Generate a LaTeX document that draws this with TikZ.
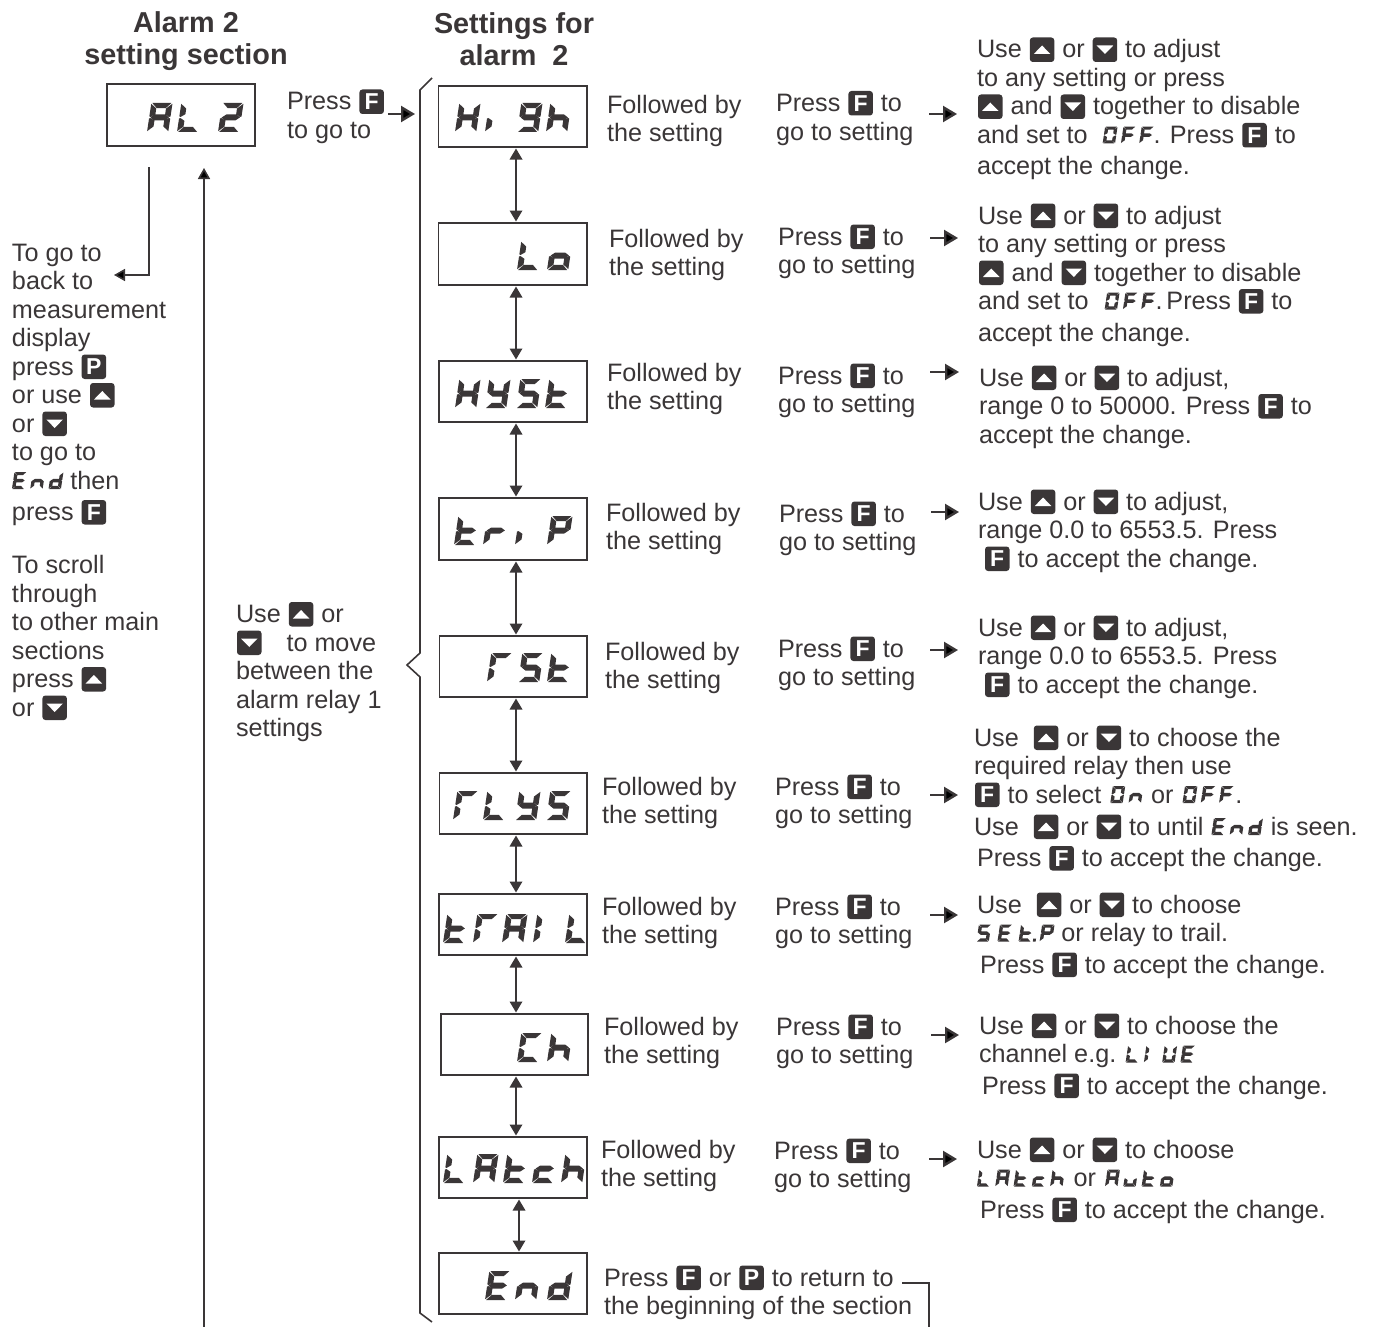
\documentclass[tikz,border=0pt]{standalone}
\usepackage{fontspec}
\setmainfont{Liberation Sans}
\usetikzlibrary{arrows.meta}
\definecolor{ink}{HTML}{3A3637}
% seven-segment elements (glyph box 20 x 29, y up)
\def\segA{(1,29)--(19,29)--(14.2,23.8)--(5.8,23.8)--cycle }
\def\segD{(1,0)--(19,0)--(14.2,5.2)--(5.8,5.2)--cycle }
\def\segG{(1.4,14.5)--(5.4,17.5)--(14.6,17.5)--(18.6,14.5)--(14.6,11.5)--(5.4,11.5)--cycle }
\def\segF{(0,28.2)--(5.4,23.4)--(5.4,17.8)--(1.2,15)--(0,15.6)--cycle }
\def\segE{(0,0.8)--(5.4,5.6)--(5.4,11.2)--(1.2,14)--(0,13.4)--cycle }
\def\segB{(20,28.2)--(14.6,23.4)--(14.6,17.8)--(18.8,15)--(20,15.6)--cycle }
\def\segC{(20,0.8)--(14.6,5.6)--(14.6,11.2)--(18.8,14)--(20,13.4)--cycle }
\def\segDot{(23,0)--(27.5,0)--(27.5,5)--(23,5)--cycle }
\newcommand\defglyph[2]{\expandafter\def\csname glyph#1\endcsname{\fill[ink] #2;}}
\defglyph{A}{\segA\segB\segC\segE\segF\segG}
\defglyph{L}{\segF\segE\segD}
\defglyph{2}{\segA\segB\segG\segE\segD}
\defglyph{H}{\segF\segE\segB\segC\segG}
\defglyph{i}{\segE}
\defglyph{g}{\segA\segB\segF\segG\segC\segD}
\defglyph{h}{\segF\segE\segG\segC}
\defglyph{o}{\segG\segC\segD\segE}
\defglyph{Y}{\segF\segB\segG\segC\segD}
\defglyph{S}{\segA\segF\segG\segC\segD}
\defglyph{t}{\segF\segE\segG\segD}
\defglyph{r}{\segE\segG}
\defglyph{P}{\segA\segB\segF\segG\segE}
\defglyph{R}{\segA\segF\segE}
\defglyph{I}{\segF\segE}
\defglyph{C}{\segA\segF\segE\segD}
\defglyph{c}{\segG\segE\segD}
\defglyph{E}{\segA\segF\segG\segE\segD}
\defglyph{n}{\segG\segE\segC}
\defglyph{d}{\segB\segC\segD\segE\segG}
\defglyph{u}{\segE\segD\segC}
\defglyph{U}{\segF\segE\segB\segC\segD}
\defglyph{O}{\segA\segB\segC\segD\segE\segF}
\defglyph{F}{\segA\segF\segG\segE}
\defglyph{tdot}{\segF\segE\segG\segD\segDot}
\defglyph{sp}{}
\tikzset{
  dispbox/.style={draw=ink,line width=1.7pt,inner sep=0pt,outer sep=0pt,text opacity=0,font=\fontsize{12}{12}\selectfont},
  txt/.style={anchor=base west,inner sep=0pt,outer sep=0pt,text=ink,font=\fontsize{25.2}{28.5}\selectfont},
  ttl/.style={anchor=base,inner sep=0pt,outer sep=0pt,text=ink,align=center,font=\fontsize{28.8}{32}\selectfont\bfseries},
  keyletter/.style={anchor=center,text=white,inner sep=0pt,font=\fontsize{23}{23}\selectfont\bfseries},
  hidden/.style={text opacity=0,inner sep=0pt,anchor=base west,overlay,font=\fontsize{12}{12}\selectfont},
  link/.style={draw=ink,line width=1.8pt,{Triangle[length=11pt,width=12.5pt]}-{Triangle[length=11pt,width=12.5pt]},shorten <=1.5pt,shorten >=1.5pt},
  hop/.style={draw=ink,line width=2.4pt,-{Triangle[length=14pt,width=16pt]}},
  wire/.style={draw=ink,line width=1.6pt},
  wiretip/.style={wire,-{Triangle[length=11pt,width=12pt]}},
}
\newcommand\keybase{\fill[ink,rounded corners=3pt] (0,0) rectangle (24.5,24.5);}
\newcommand\keywrap[1]{\hspace{1pt}\smash{#1}\hspace{1pt}}
\newcommand\keyF{\keywrap{\tikz[x=1pt,y=1pt,baseline=4pt]{\keybase\node[keyletter] (kf) at (12.25,12.25) {F};}}}
\newcommand\keyP{\keywrap{\tikz[x=1pt,y=1pt,baseline=4pt]{\keybase\node[keyletter] (kp) at (12.25,12.25) {P};}}}
\newcommand\keyU{\keywrap{\tikz[x=1pt,y=1pt,baseline=4pt]{\keybase\fill[white] (4,8) -- (20.5,8) -- (12.25,16.5) -- cycle;}}}
\newcommand\keyD{\keywrap{\tikz[x=1pt,y=1pt,baseline=4pt]{\keybase\fill[white] (4,16.5) -- (20.5,16.5) -- (12.25,8) -- cycle;}}}
% inline seven-segment word: [pitch]{visible text}{list of glyphs}
\newcommand\segword[3][29.5]{\tikz[x=.62pt,y=.58pt,baseline=0pt,xslant=.15]{\node[hidden] (sw) at (0,0) {#2};\foreach \c [count=\i from 0] in {#3}{\begin{scope}[shift={(\i*#1,0)}]\csname glyph\c\endcsname\end{scope}}}}
% display box
\newcommand\disp[6]{\node[dispbox,minimum width={(#4-#2)*1pt},minimum height={(#5-#3)*1pt}] (#1) at ({(#2+#4)/2},{(#3+#5)/2}) {#6};}
\newcommand\glyphs[2]{\foreach \gx/\c in {#2}{\begin{scope}[shift={(\gx,#1)},x=1.06pt,y=1pt,xslant=.15]\csname glyph\c\endcsname\end{scope}}}
\newcommand\blk[4]{\node[txt] (#1) at (#2,#3) {\begin{tabular}[t]{@{}l@{}}#4\end{tabular}};}
\newcommand\hopArrow[4]{\coordinate (#1s) at (#3,#2);\coordinate (#1e) at (#4,#2);\draw[hop] (#1s) -- (#1e);}
\newcommand\follow{Followed by\\the setting}
\newcommand\pressto{Press \keyF{} to\\go to setting}
\newcommand\accept{Press \keyF{} to accept the change.}
\begin{document}
\begin{tikzpicture}[x=1pt,y=-1pt]
\useasboundingbox (0,0) rectangle (1373,1327);
% titles
\node[ttl] (t1) at (186,64.5) {Alarm 2\\setting section};
\node[ttl] (t2) at (514,66) {Settings for\\alarm\ \ 2};
% displays
\disp{al}{107}{84}{255}{146}{AL 2}
\disp{hi}{438.5}{86}{587}{147}{High}
\disp{lo}{438.5}{223}{587}{285}{Lo}
\disp{hy}{439}{361}{587}{422}{HYSt}
\disp{tr}{439}{498}{587}{560}{triP}
\disp{rs}{439.5}{636}{587}{697}{rSt}
\disp{rl}{439.5}{773}{587}{834}{rLYS}
\disp{ta}{439}{894}{587}{955}{tRAIL}
\disp{ch}{441}{1014}{588}{1075}{Ch}
\disp{la}{439}{1137}{587}{1198}{LAtch}
\disp{en}{439}{1253}{587}{1314}{End}
\glyphs{132}{147/A,177/L,218/2}
\glyphs{132}{455/H,485/i,517/g,546/h}
\glyphs{270}{517/L,547/o}
\glyphs{408}{455/H,485/Y,516/S,545/t}
\glyphs{545}{454/t,483/r,515/i,547/P}
\glyphs{682}{487/R,518/S,547/t}
\glyphs{820}{453/R,483/L,515/Y,546/S}
\glyphs{943}{443/t,473/R,502/A,533/I,565/L}
\glyphs{1062}{517/C,547/h}
\glyphs{1183}{443/L,473/A,503/t,532/c,561/h}
\glyphs{1300}{485/E,515/n,547/d}
% links between displays
\draw[link] ([xshift=3.25pt]hi.south) -- ([xshift=3.25pt]lo.north);
\draw[link] ([xshift=3.25pt]lo.south) -- ([xshift=3pt]hy.north);
\draw[link] ([xshift=3pt]hy.south) -- ([xshift=3pt]tr.north);
\draw[link] ([xshift=3pt]tr.south) -- ([xshift=2.75pt]rs.north);
\draw[link] ([xshift=2.75pt]rs.south) -- ([xshift=2.75pt]rl.north);
\draw[link] ([xshift=2.75pt]rl.south) -- ([xshift=3pt]ta.north);
\draw[link] ([xshift=3pt]ta.south) -- ([xshift=1.5pt]ch.north);
\draw[link] ([xshift=1.5pt]ch.south) -- ([xshift=3pt]la.north);
\draw[link] ([xshift=6pt]la.south) -- ([xshift=6pt]en.north);
% left column
\blk{leftA}{12}{261}{To go to\\back to\\measurement\\display\\press \keyP\\or use \keyU\\or \keyD\\to go to\\\segword{End}{E,n,d} then\\[3pt]press \keyF}
\blk{leftB}{12}{573.5}{To scroll\\through\\to other main\\sections\\press \keyU\\or \keyD}
\blk{gotoA}{287}{110}{Press \keyF\\to go to}
\blk{useA}{236}{622.5}{Use \keyU{} or\\\keyD{}\ \ \ \hspace{3pt}to move\\between the\\alarm relay 1\\settings}
% followed by
\blk{f1}{607}{113.5}{\follow}
\blk{f2}{609}{247}{\follow}
\blk{f3}{607}{381}{\follow}
\blk{f4}{606}{521}{\follow}
\blk{f5}{605}{660}{\follow}
\blk{f6}{602}{795}{\follow}
\blk{f7}{602}{915}{\follow}
\blk{f8}{604}{1035}{\follow}
\blk{f9}{601}{1158}{\follow}
% press to
\blk{p1}{776}{111.5}{\pressto}
\blk{p2}{778}{245}{\pressto}
\blk{p3}{778}{384}{\pressto}
\blk{p4}{779}{522}{\pressto}
\blk{p5}{778}{657}{\pressto}
\blk{p6}{775}{795}{\pressto}
\blk{p7}{775}{915}{\pressto}
\blk{p8}{776}{1035}{\pressto}
\blk{p9}{774}{1159}{\pressto}
% hops
\hopArrow{h0}{114}{388}{415}
\hopArrow{h1}{114}{929}{957}
\hopArrow{h2}{238}{930}{958}
\hopArrow{h3}{372}{930}{959}
\hopArrow{h4}{512}{931}{959}
\hopArrow{h5}{650}{930}{958}
\hopArrow{h6}{795}{930}{958}
\hopArrow{h7}{915}{930}{958}
\hopArrow{h8}{1035}{931}{959}
\hopArrow{h9}{1159}{929}{957}
% right column
\blk{r1}{977}{58}{Use \keyU{} or \keyD{} to adjust\\to any setting or press\\\keyU{} and \keyD{} together to disable\\and set to\ \ \hspace{1pt}\segword{OFF}{O,F,F}. Press \keyF{} to\\[3pt]accept the change.}
\blk{r2}{978}{224}{Use \keyU{} or \keyD{} to adjust\\to any setting or press\\\keyU{} and \keyD{} together to disable\\and set to\ \ \hspace{2pt}\segword{OFF.}{O,F,F}.\hspace{4pt}Press \keyF{} to\\[3pt]accept the change.}
\blk{r3}{979}{386}{Use \keyU{} or \keyD{} to adjust,\\range 0 to 50000. Press \keyF{} to\\accept the change.}
\blk{r4}{978}{510}{Use \keyU{} or \keyD{} to adjust,\\range 0.0 to 6553.5. Press\\\hspace*{6pt}\keyF{} to accept the change.}
\blk{r5}{978}{636}{Use \keyU{} or \keyD{} to adjust,\\range 0.0 to 6553.5. Press\\\hspace*{6pt}\keyF{} to accept the change.}
\blk{r6}{974}{746}{Use\ \ \keyU{} or \keyD{} to choose the\\required relay then use\\\keyF{} to select \hspace{2pt}\segword{On}{O,n}\hspace{2pt} or \hspace{2pt}\segword{OFF}{O,F,F}\hspace{2pt}.\\[3.5pt]Use\ \ \keyU{} or \keyD{} to until \hspace{1pt}\segword{End}{E,n,d}\hspace{1pt} is seen.\\[3pt]\hspace*{3pt}\accept}
\blk{r7}{977}{913}{Use\ \ \keyU{} or \keyD{} to choose\\\segword[34]{SEt.P}{S,E,tdot,P} or relay to trail.\\[3pt]\hspace*{3pt}\accept}
\blk{r8}{979}{1034}{Use \keyU{} or \keyD{} to choose the\\channel e.g. \segword{LI UE}{L,I,U,E}\\[3pt]\hspace*{3pt}\accept}
\blk{r9}{977}{1158}{Use \keyU{} or \keyD{} to choose\\\segword{LAtch}{L,A,t,c,h}\hspace{3pt} or \hspace{2pt}\segword{Auto}{A,u,t,o}\\[3pt]\hspace*{3pt}\accept}
\blk{endtxt}{604}{1286}{Press \keyF{} or \keyP{} to return to\\the beginning of the section}
% big bracket
\coordinate (bt) at (432,78);
\coordinate (bu) at (420,90);
\coordinate (bm1) at (420,653);
\coordinate (bm) at (407,665);
\coordinate (bm2) at (420,677);
\coordinate (bl) at (420,1313);
\coordinate (bb) at (432,1322);
\draw[wire] (bt) -- (bu) -- (bm1) -- (bm) -- (bm2) -- (bl) -- (bb);
% free wires
\coordinate (w1) at (149,167);
\coordinate (w2) at (149,275);
\coordinate (w3) at (114,275);
\draw[wiretip] (w1) -- (w2) -- (w3);
\coordinate (w4) at (204,1327);
\coordinate (w5) at (204,168);
\draw[wiretip] (w4) -- (w5);
\coordinate (w6) at (902,1283);
\coordinate (w7) at (929,1283);
\coordinate (w8) at (929,1327);
\draw[wire] (w6) -- (w7) -- (w8);
\end{tikzpicture}
\end{document}
